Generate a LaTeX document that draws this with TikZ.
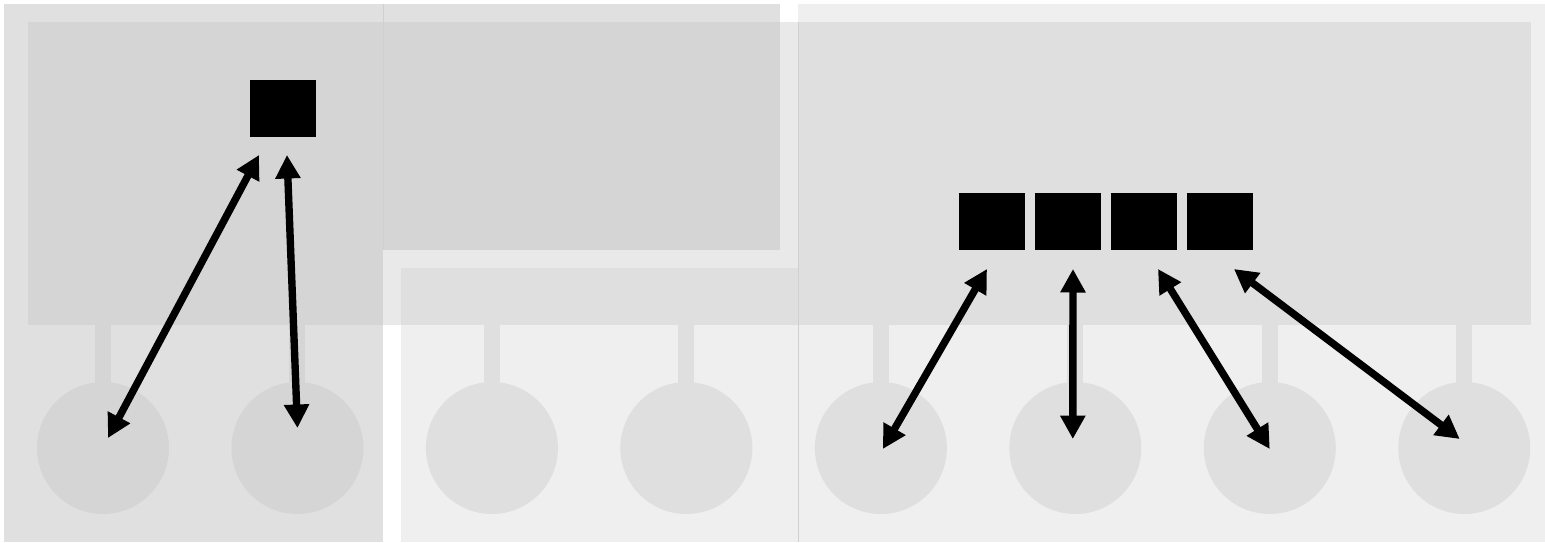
\documentclass[tikz,border=0pt]{standalone}
\usepackage{tikz}
\usetikzlibrary{arrows, arrows.meta, positioning, calc}
\definecolor{panelgray}{HTML}{E0E0E0}
\definecolor{innergray}{HTML}{D5D5D5}
\definecolor{bandgray}{HTML}{E9E9E9}
\definecolor{lightgray}{HTML}{EFEFEF}
\definecolor{midgray}{HTML}{DFDFDF}
\definecolor{edgegray}{HTML}{D0D0D0}

\begin{document}
\begin{tikzpicture}[
    x=0.02cm, y=-0.02cm,
    node distance=1.25cm,
    unit/.style={rectangle, minimum width=1.32cm, minimum height=1.14cm, inner sep=0pt, outer sep=0pt, fill=black},
    core/.style={circle, minimum size=2.64cm, inner sep=0pt, outer sep=0pt, fill=#1},
    wire/.style={line width=0.32cm, draw=#1},
    biarrow/.style={line width=4.2pt, <->, >={Triangle[length=0.47cm, width=0.48cm]}}
]
    % panels
    \useasboundingbox (0,0) rectangle (1545,542);
    \fill[white] (0,0) rectangle (1545,542);
    \fill[panelgray] (4,4) rectangle (383,542);
    \fill[innergray] (28,22) rectangle (383,325);
    \fill[bandgray] (383,22) rectangle (798,325);
    \fill[panelgray] (383,4) rectangle (780,22);
    \fill[innergray] (383,22) rectangle (780,250);
    \fill[lightgray] (401,268) rectangle (798,542);
    \fill[midgray] (401,268) rectangle (798,325);
    \fill[lightgray] (798,4) rectangle (1545,542);
    \fill[midgray] (798,22) rectangle (1531,325);
    \draw[edgegray, line width=0.3pt] (383,4) -- (383,250);
    \draw[edgegray, line width=0.3pt] (798,22) -- (798,542);

    % cores
    \node (c1) [core=innergray] at (103,448) {};
    \node (c2) [core=innergray, right=of c1] {};
    \node (c3) [core=midgray, right=of c2] {};
    \node (c4) [core=midgray, right=of c3] {};
    \node (c5) [core=midgray, right=of c4] {};
    \node (c6) [core=midgray, right=of c5] {};
    \node (c7) [core=midgray, right=of c6] {};
    \node (c8) [core=midgray, right=of c7] {};

    \draw [wire=innergray] (c1.center) -- (c1.center |- 0,325);
    \draw [wire=innergray] (c2.center) -- (c2.center |- 0,325);
    \draw [wire=midgray] (c3.center) -- (c3.center |- 0,325);
    \draw [wire=midgray] (c4.center) -- (c4.center |- 0,325);
    \draw [wire=midgray] (c5.center) -- (c5.center |- 0,325);
    \draw [wire=midgray] (c6.center) -- (c6.center |- 0,325);
    \draw [wire=midgray] (c7.center) -- (c7.center |- 0,325);
    \draw [wire=midgray] (c8.center) -- (c8.center |- 0,325);

    % memory units
    \node (src) [unit] at (283,108.5) {};
    \node (q1) [unit] at (992,221.5) {};
    \node (q2) [unit, right=0.2cm of q1] {};
    \node (q3) [unit, right=0.2cm of q2] {};
    \node (q4) [unit, right=0.2cm of q3] {};

    \draw [biarrow] ([shift={(-24,18)}]src.south) -- ([shift={(5,-10)}]c1.center);
    \draw [biarrow] ([shift={(4,18)}]src.south) -- ([shift={(0,-20)}]c2.center);
    \draw [biarrow] ([shift={(-5,19)}]q1.south) -- ([shift={(2,1)}]c5.center);
    \draw [biarrow] ([shift={(5,19)}]q2.south) -- ([shift={(-2.5,-9)}]c6.center);
    \draw [biarrow] ([shift={(14,19)}]q3.south) -- ([shift={(0,1)}]c7.center);
    \draw [biarrow] ([shift={(14,19)}]q4.south) -- ([shift={(-4.5,-9)}]c8.center);
\end{tikzpicture}
\end{document}
